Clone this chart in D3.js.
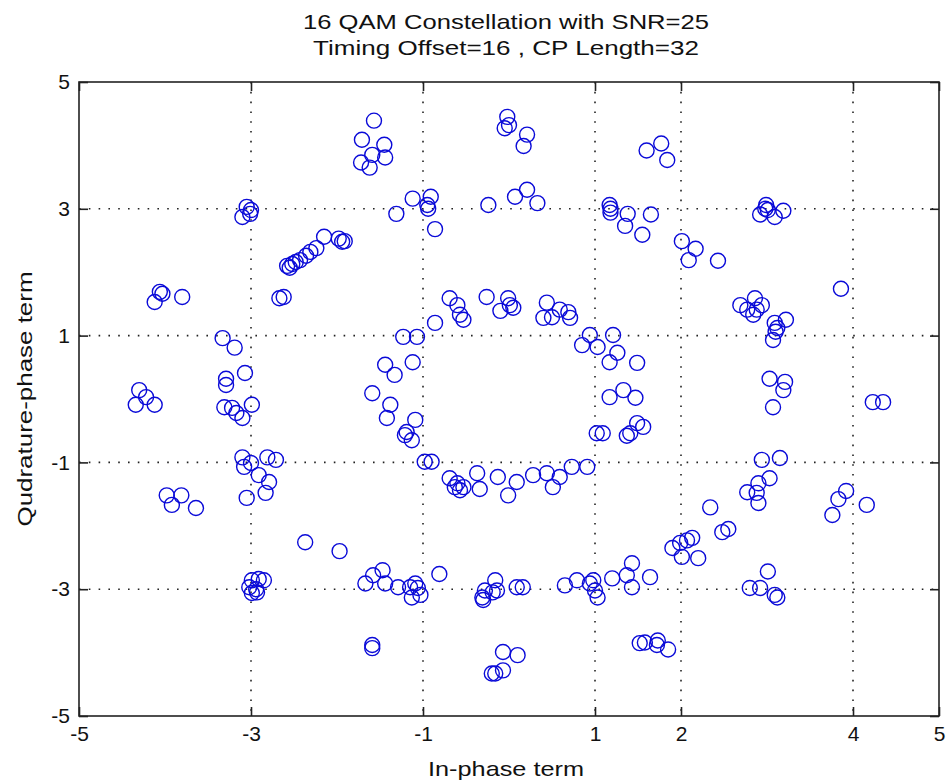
<!DOCTYPE html>
<html>
<head>
<meta charset="utf-8">
<script src="https://cdn.jsdelivr.net/npm/d3@7"></script>
<style>
  body { margin: 0; background: #fff; }
  text { font-family: "Liberation Sans", Arial, Helvetica, sans-serif; fill: #111; }
</style>
</head>
<body>
<svg id="chart"></svg>
<script>
const global_width = 949,
  global_height = 784;

const margin = {top: 82, right: 10, bottom: 68, left: 79};
const width = global_width - margin.left - margin.right,
  height = global_height - margin.top - margin.bottom;

const titleLines = ['16 QAM Constellation with SNR=25', 'Timing Offset=16 , CP Length=32']
const xLabel = 'In-phase term'
const yLabel = 'Qudrature-phase term'

const xTicks = [-5, -3, -1, 1, 2, 4, 5]
const yTicks = [-5, -3, -1, 1, 3, 5]

// received symbols [in-phase, quadrature]
const outerTop = [
  [-1.57, 4.39], [-1.71, 4.09], [-1.45, 4.01], [-1.59, 3.85], [-1.72, 3.73], [-1.62, 3.65], [-1.44, 3.81],
  [-0.02, 4.45], [-0.05, 4.27], [0.00, 4.32], [0.21, 4.17], [0.17, 3.99],
  [-1.12, 3.16], [-1.31, 2.92], [-0.95, 3.06], [-0.94, 3.00], [-0.91, 3.19], [-0.86, 2.68],
  [-0.24, 3.06], [0.07, 3.19], [0.21, 3.30], [0.33, 3.09],
  [1.60, 3.92], [1.77, 4.03], [1.84, 3.77], [1.17, 3.06], [1.18, 3.00], [1.18, 2.94],
  [1.38, 2.92], [1.35, 2.73], [1.55, 2.59], [1.65, 2.91],
  [2.01, 2.49], [2.17, 2.37], [2.09, 2.19], [2.43, 2.18],
  [2.99, 3.06], [2.92, 2.91], [3.01, 2.98], [3.09, 2.87], [3.19, 2.97], [2.98, 3.00],
  [3.86, 1.74]
]

const outerLeft = [
  [-3.10, 2.87], [-3.05, 3.03], [-3.00, 2.98], [-3.01, 2.92],
  [-2.58, 2.10], [-2.55, 2.07], [-2.52, 2.13], [-2.48, 2.16], [-2.43, 2.19], [-2.36, 2.26],
  [-2.31, 2.32], [-2.24, 2.38], [-2.15, 2.56], [-1.98, 2.53], [-1.94, 2.48], [-1.91, 2.49],
  [-2.67, 1.59], [-2.62, 1.61], [-4.06, 1.69], [-4.03, 1.66], [-4.12, 1.53], [-3.80, 1.61],
  [-3.33, 0.96], [-3.19, 0.81], [-3.07, 0.41], [-3.29, 0.32], [-3.29, 0.22],
  [-3.31, -0.13], [-3.22, -0.14], [-3.17, -0.22], [-3.10, -0.30], [-2.99, -0.09],
  [-4.30, 0.14], [-4.22, 0.03], [-4.34, -0.09], [-4.12, -0.09],
  [-3.10, -0.92], [-3.08, -1.07], [-3.00, -1.01], [-2.91, -1.20], [-2.81, -0.92], [-2.71, -0.96],
  [-2.79, -1.31], [-2.83, -1.48], [-3.05, -1.56],
  [-3.98, -1.52], [-3.81, -1.52], [-3.92, -1.67], [-3.64, -1.72]
]

const innerRing = [
  [-0.69, 1.59], [-0.60, 1.48], [-0.57, 1.33], [-0.53, 1.25], [-0.26, 1.61], [-0.01, 1.59],
  [0.01, 1.48], [-0.10, 1.39], [0.05, 1.44], [0.44, 1.52], [0.40, 1.28], [0.59, 1.41],
  [0.50, 1.29], [0.69, 1.37], [0.71, 1.28], [-0.86, 1.20], [-1.23, 0.98], [-1.07, 0.98],
  [-1.44, 0.54], [-1.33, 0.38], [-1.12, 0.58], [-1.59, 0.09], [-1.38, -0.09], [-1.42, -0.30],
  [-1.09, -0.33], [-1.19, -0.52], [-1.13, -0.65], [-1.21, -0.57], [-0.98, -0.99], [-0.90, -0.99],
  [-0.69, -1.25], [-0.60, -1.33], [-0.57, -1.44], [-0.63, -1.39], [-0.53, -1.39], [-0.37, -1.17],
  [-0.34, -1.42], [-0.13, -1.23], [0.09, -1.31], [-0.01, -1.52], [0.28, -1.20], [0.44, -1.17],
  [0.51, -1.39], [0.59, -1.23], [0.73, -1.07], [0.91, -1.07],
  [0.94, 1.01], [0.85, 0.85], [1.03, 0.82], [1.21, 1.01], [1.26, 0.73], [1.17, 0.58],
  [1.49, 0.57], [1.33, 0.14], [1.17, 0.03], [1.47, 0.02], [1.02, -0.54], [1.09, -0.54],
  [1.37, -0.58], [1.49, -0.38], [1.56, -0.44], [1.41, -0.54]
]

const outerRight = [
  [2.69, 1.48], [2.86, 1.59], [2.88, 1.41], [2.84, 1.33], [2.94, 1.48], [2.77, 1.41],
  [3.09, 1.20], [3.12, 1.12], [3.22, 1.25], [3.07, 0.93], [3.10, 1.06],
  [3.03, 0.32], [3.21, 0.27], [3.19, 0.14], [3.07, -0.13], [4.23, -0.05], [4.35, -0.05],
  [2.94, -0.96], [3.15, -0.93], [3.03, -1.25], [2.90, -1.33], [2.77, -1.47], [2.88, -1.48],
  [2.90, -1.64], [2.34, -1.71], [3.92, -1.45], [3.83, -1.58], [3.76, -1.83], [4.16, -1.67]
]

const outerBottom = [
  [2.48, -2.10], [2.55, -2.05], [1.90, -2.35], [1.99, -2.27], [2.07, -2.23], [2.13, -2.19],
  [2.01, -2.49], [2.20, -2.51], [1.64, -2.81], [3.01, -2.72], [2.80, -2.98], [2.92, -2.98],
  [3.09, -3.09], [3.12, -3.13], [1.58, -3.84], [1.73, -3.81], [1.72, -3.88], [1.85, -3.95], [1.52, -3.85],
  [-1.67, -2.91], [-1.58, -2.78], [-1.47, -2.70], [-1.44, -2.91], [-1.29, -2.97], [-1.15, -2.97],
  [-1.09, -2.91], [-1.13, -3.13], [-1.03, -3.09], [-1.06, -2.98], [-0.81, -2.76],
  [-1.59, -3.88], [-1.59, -3.93],
  [-0.16, -2.86], [-0.28, -3.02], [-0.31, -3.13], [-0.19, -3.05], [-0.30, -3.17], [-0.14, -3.02],
  [0.09, -2.97], [0.16, -2.97], [-0.07, -3.99], [0.10, -4.04], [-0.16, -4.33], [-0.07, -4.28], [-0.20, -4.33],
  [0.65, -2.94], [0.79, -2.86], [0.94, -2.91], [1.00, -3.02], [1.03, -3.13], [0.98, -2.86],
  [1.20, -2.83], [1.37, -2.78], [1.43, -2.59], [1.43, -2.97],
  [-2.37, -2.26], [-1.97, -2.40], [-2.99, -2.86], [-2.91, -2.84], [-2.85, -2.86],
  [-3.02, -2.97], [-2.94, -3.00], [-2.93, -3.05], [-2.99, -3.06]
]

const symbols = [...outerTop, ...outerLeft, ...innerRing, ...outerRight, ...outerBottom]

const svg = d3.select('svg#chart')
  .attr('width', global_width)
  .attr('height', global_height)

// title, two lines
svg.selectAll('.title')
  .data(titleLines)
  .enter()
  .append('text')
  .attr('class', 'title')
  .attr('x', margin.left + width / 2 - 3)
  .attr('y', (d, i) => 29 + i * 26)
  .attr('text-anchor', 'middle')
  .attr('font-size', '21px')
  .attr('textLength', (d, i) => i === 0 ? 406 : 386)
  .attr('lengthAdjust', 'spacingAndGlyphs')
  .text(d => d)

const plot = svg.append('g')
  .attr('transform', `translate(${margin.left},${margin.top})`)

// Scales
const xScale = d3.scaleLinear().domain([-5, 5]).range([0, width])
const yScale = d3.scaleLinear().domain([-5, 5]).range([height, 0])

// dotted grid
plot.append('g')
  .selectAll('line')
  .data(xTicks.filter(t => t > -5 && t < 5))
  .enter()
  .append('line')
  .attr('x1', d => xScale(d)).attr('x2', d => xScale(d))
  .attr('y1', 0).attr('y2', height)
  .attr('stroke', '#222')
  .attr('stroke-width', 1.6)
  .attr('stroke-dasharray', '1.6,8.2')

plot.append('g')
  .selectAll('line')
  .data(yTicks.filter(t => t > -5 && t < 5))
  .enter()
  .append('line')
  .attr('x1', 0).attr('x2', width)
  .attr('y1', d => yScale(d)).attr('y2', d => yScale(d))
  .attr('stroke', '#222')
  .attr('stroke-width', 1.6)
  .attr('stroke-dasharray', '1.6,8.2')

// symbols as open circles
plot.append('g')
  .selectAll('circle')
  .data(symbols)
  .enter()
  .append('circle')
  .attr('cx', d => xScale(d[0]))
  .attr('cy', d => yScale(d[1]))
  .attr('r', 7.5)
  .attr('fill', 'none')
  .attr('stroke', '#0a0ad8')
  .attr('stroke-width', 1.4)

// axes, ticks pointing inward on all four sides
const tickLen = 9
const plainNum = d => String(d)   // keep ascii hyphen for negatives
const xAxis = d3.axisBottom(xScale).tickValues(xTicks).tickSize(-tickLen).tickPadding(7).tickFormat(plainNum)
const yAxis = d3.axisLeft(yScale).tickValues(yTicks).tickSize(-tickLen).tickPadding(9).tickFormat(plainNum)

const styleAxis = g => {
  g.select('.domain').remove()
  g.selectAll('line').attr('stroke', '#222').attr('stroke-width', 1.6)
  g.selectAll('text').attr('font-size', '21px').attr('fill', '#111')
    .attr('font-family', '"Liberation Sans", Arial, sans-serif')
}

plot.append('g')
  .attr('transform', `translate(0,${height})`)
  .call(xAxis)
  .call(styleAxis)
  .selectAll('text')
  .attr('dy', '0.85em')

plot.append('g')
  .call(yAxis)
  .call(styleAxis)

plot.append('g')
  .call(d3.axisTop(xScale).tickValues(xTicks).tickSize(-tickLen).tickFormat(''))
  .call(styleAxis)

plot.append('g')
  .attr('transform', `translate(${width},0)`)
  .call(d3.axisRight(yScale).tickValues(yTicks).tickSize(-tickLen).tickFormat(''))
  .call(styleAxis)

// frame
plot.append('rect')
  .attr('width', width)
  .attr('height', height)
  .attr('fill', 'none')
  .attr('stroke', '#222')
  .attr('stroke-width', 1.6)

// axis labels
svg.append('text')
  .attr('x', margin.left + width / 2 - 3)
  .attr('y', 776)
  .attr('text-anchor', 'middle')
  .attr('font-size', '21px')
  .attr('textLength', 156)
  .attr('lengthAdjust', 'spacingAndGlyphs')
  .text(xLabel)

svg.append('text')
  .attr('transform', `translate(32,${margin.top + height / 2}) rotate(-90)`)
  .attr('text-anchor', 'middle')
  .attr('font-size', '21px')
  .attr('textLength', 255)
  .attr('lengthAdjust', 'spacingAndGlyphs')
  .text(yLabel)
</script>
</body>
</html>
